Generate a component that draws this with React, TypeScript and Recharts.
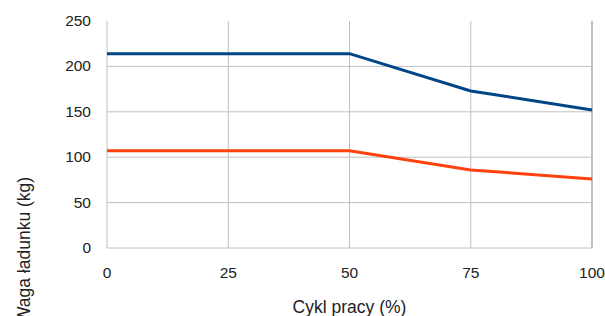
import { LineChart, Line, XAxis, YAxis, ReferenceLine } from 'recharts'

const dutyCycle = [0, 25, 50, 75, 100]
const loadHigh = [214, 214, 214, 173, 152]
const loadLow = [107, 107, 107, 86, 76]
const xTicks = [0, 25, 50, 75, 100]
const yTicks = [0, 50, 100, 150, 200, 250]
const hGrid = [50, 100, 150, 200]
const vGrid = [25, 50, 75, 100]

const data = dutyCycle.map((x, i) => ({ x, high: loadHigh[i], low: loadLow[i] }))

const FONT = '"Liberation Sans", Arial, sans-serif'
const GRID = '#c0c0c0'

function XTick({ x, y, payload }: any) {
  return (
    <text x={x} y={y + 22} textAnchor="middle" fontSize={15.5} fill="#222" fontFamily={FONT}>
      {payload.value}
    </text>
  )
}

function YTick({ x, y, payload }: any) {
  return (
    <text x={x - 8} y={y + 5} textAnchor="end" fontSize={15.5} fill="#222" fontFamily={FONT}>
      {payload.value}
    </text>
  )
}

export default function App() {
  return (
    <div style={{ position: 'absolute', left: 0, top: 0, width: 605, height: 316, background: '#fff' }}>
      <LineChart width={605} height={316} data={data} margin={{ top: 21, right: 13, bottom: 0, left: 0 }}>
        <XAxis
          dataKey="x"
          type="number"
          domain={[0, 100]}
          ticks={xTicks}
          height={68}
          axisLine={false}
          tickLine={false}
          tick={<XTick />}
          label={{ value: 'Cykl pracy (%)', position: 'insideBottom', offset: 3, fontSize: 17.5, fill: '#222', fontFamily: FONT }}
        />
        <YAxis
          type="number"
          domain={[0, 250]}
          ticks={yTicks}
          width={107}
          axisLine={false}
          tickLine={false}
          tick={<YTick />}
          label={() => (
            <text
              x={0}
              y={0}
              transform="translate(30 250) rotate(-90)"
              textAnchor="middle"
              fontSize={17.5}
              fill="#222"
              fontFamily={FONT}
            >
              Waga ładunku (kg)
            </text>
          )}
        />
        {hGrid.map((v) => (
          <ReferenceLine key={'h' + v} y={v} stroke={GRID} strokeWidth={1} />
        ))}
        {vGrid.map((v) => (
          <ReferenceLine key={'v' + v} x={v} stroke={GRID} strokeWidth={v === 100 ? 2 : 1} />
        ))}
        <ReferenceLine x={0} stroke={GRID} strokeWidth={1} />
        <ReferenceLine y={0} stroke={GRID} strokeWidth={1} />
        <Line type="linear" dataKey="high" stroke="#004586" strokeWidth={3} dot={false} isAnimationActive={false} />
        <Line type="linear" dataKey="low" stroke="#ff420e" strokeWidth={3} dot={false} isAnimationActive={false} />
      </LineChart>
    </div>
  )
}
